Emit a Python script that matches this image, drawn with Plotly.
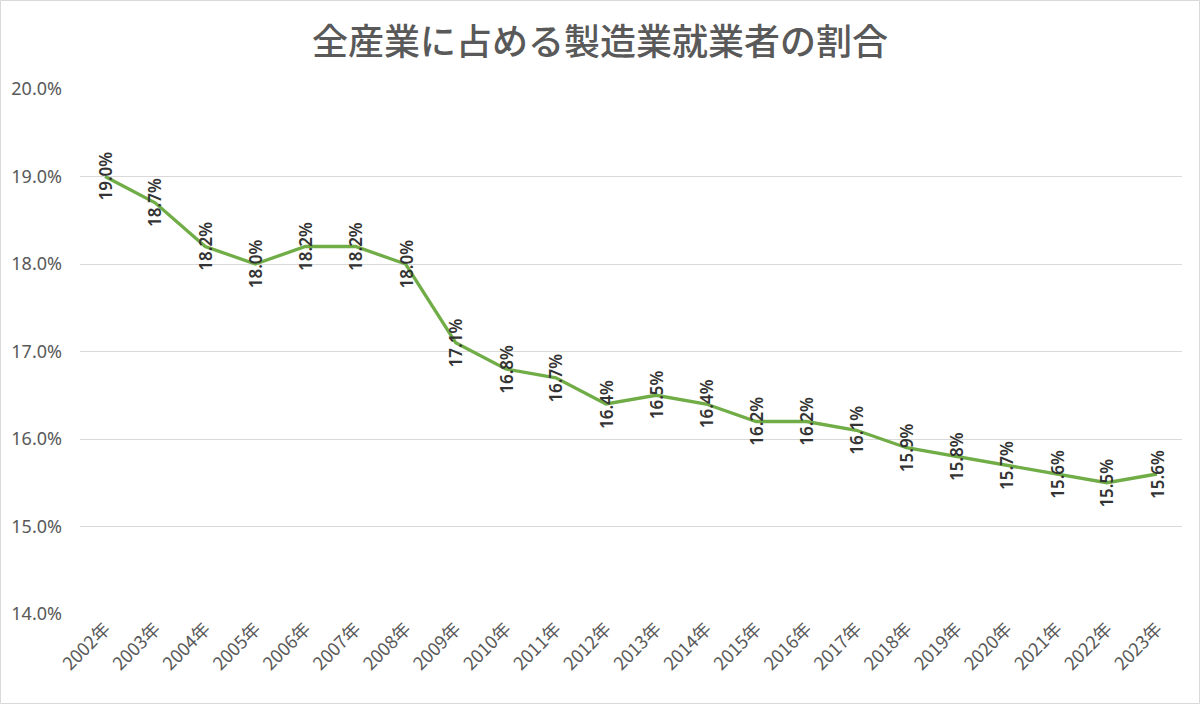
import plotly.graph_objects as go

years = [f"{y}年" for y in range(2002, 2024)]
shares = [19.0, 18.7, 18.2, 18.0, 18.2, 18.2, 18.0, 17.1, 16.8, 16.7, 16.4,
          16.5, 16.4, 16.2, 16.2, 16.1, 15.9, 15.8, 15.7, 15.6, 15.5, 15.6]
y_ticks = [14.0, 15.0, 16.0, 17.0, 18.0, 19.0, 20.0]
title_text = "全産業に占める製造業就業者の割合"

W, H = 1200, 704
ml, mr, mt, mb = 80, 18, 89, 90

fig = go.Figure()
fig.add_trace(go.Scatter(
    x=years, y=shares, mode="lines",
    line=dict(color="#70ad47", width=3.3),
    hoverinfo="x+y",
))

annotations = []
for x, v in zip(years, shares):
    annotations.append(dict(
        x=x, y=v, xref="x", yref="y", text=f"{v:.1f}%",
        showarrow=False, textangle=-90,
        font=dict(family="Noto Sans, DejaVu Sans, sans-serif", size=17, color="#333333", weight=600),
        xanchor="center", yanchor="middle",
    ))

pw = W - ml - mr
ph = H - mt - mb
fig.update_layout(
    width=W, height=H,
    margin=dict(l=ml, r=mr, t=mt, b=mb, autoexpand=False),
    paper_bgcolor="white", plot_bgcolor="white",
    showlegend=False,
    title=dict(text=title_text, x=0.5, xanchor="center", y=1 - 42 / H, yanchor="middle",
               font=dict(family="Noto Sans CJK JP", size=36, color="#595959", weight=500)),
    xaxis=dict(type="category", range=[-0.5, len(years) - 0.5],
               tickangle=-45, showgrid=False, showline=False, zeroline=False,
               ticks="", tickfont=dict(family="Noto Sans CJK JP", size=18, color="#595959")),
    yaxis=dict(range=[14.0, 20.0], tickvals=y_ticks,
               ticktext=[f"{t:.1f}%" for t in y_ticks],
               showgrid=True, gridcolor="#d9d9d9", gridwidth=1, zeroline=False,
               showline=False, ticks="", ticklabelstandoff=17,
               tickfont=dict(family="Noto Sans, sans-serif", size=18, color="#595959")),
    annotations=annotations,
    shapes=[dict(type="rect", xref="paper", yref="paper",
                 x0=-ml / pw + 0.5 / pw, x1=1 + mr / pw - 0.5 / pw,
                 y0=-mb / ph + 0.5 / ph, y1=1 + mt / ph - 0.5 / ph,
                 line=dict(color="#d9d9d9", width=1), layer="below")],
)

fig.write_html("out.html")
